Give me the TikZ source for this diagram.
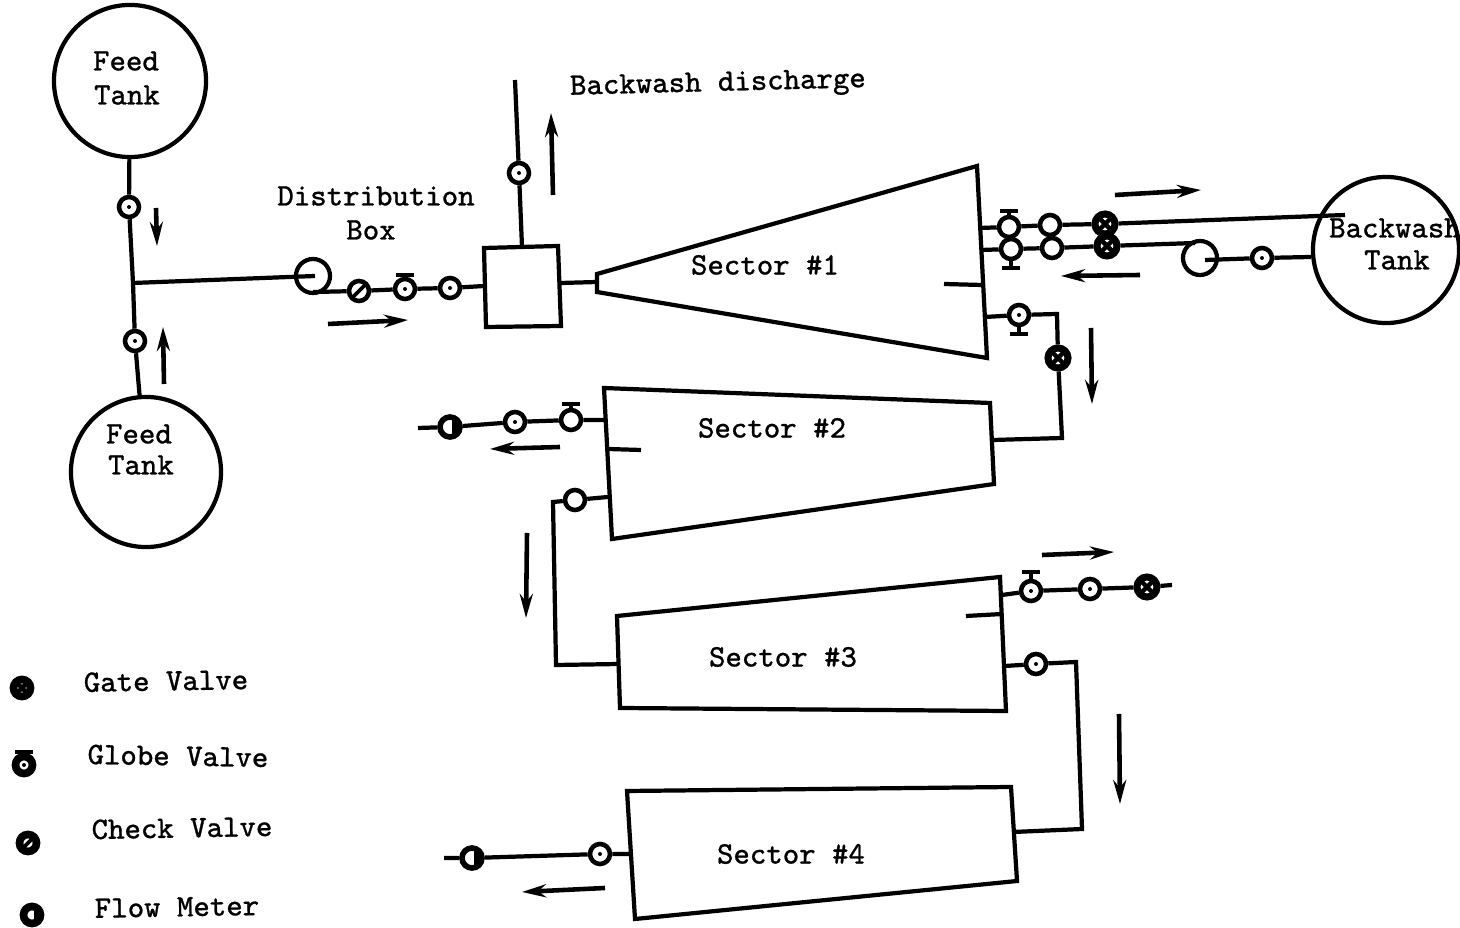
\documentclass[tikz,border=0pt]{standalone}
\usepackage{fontspec}
\usepackage{tikz,xcolor}
\usetikzlibrary{arrows.meta}
\newfontfamily\typedfont[FakeBold=0.8]{Latin Modern Mono}

\tikzset{
  pipe/.style={black, line width=1.2pt},
  flow/.style={black, line width=1.3pt, -{Stealth[length=0.24cm,width=0.13cm]}},
  tank/.style={circle, draw=black, line width=1.2pt, inner sep=0pt},
  lbl/.style={font=\fontsize{8.9}{10}\selectfont\typedfont, black, inner sep=0pt},
  plainv/.style={circle, draw=black, line width=1.3pt, fill=white, inner sep=0pt, minimum size=0.2cm},
  dotv/.style={plainv, path picture={\fill[black] (path picture bounding box.center) circle (0.02cm);}},
  checkv/.style={plainv, path picture={\draw[black, line width=1.1pt] (path picture bounding box.south west) -- (path picture bounding box.north east);}},
  gatev/.style={plainv, line width=2pt, path picture={\draw[black, line width=1.3pt] (path picture bounding box.south west) -- (path picture bounding box.north east) (path picture bounding box.south east) -- (path picture bounding box.north west);}},
  meterv/.style={plainv, line width=1.6pt, path picture={\fill[black] ([xshift=0.02cm]path picture bounding box.south) rectangle (path picture bounding box.north east);}},
  heavy/.style={line width=2.2pt, minimum size=0.17cm},
}

\begin{document}
\begin{tikzpicture}[x=0.01cm, y=-0.01cm]
\useasboundingbox (0,0) rectangle (1460,928);

% Feed tanks
\node[tank, minimum size=1.52cm] (feedA) at (130,81) {};
\node[tank, minimum size=1.50cm] (feedB) at (146,472) {};
\node[lbl] (feedAa) at (126,61) {Feed};
\node[lbl] (feedAb) at (127,95) {Tank};
\node[lbl] (feedBa) at (139,434) {Feed};
\node[lbl] (feedBb) at (141,465) {Tank};

% Feed line down to the junction
\coordinate (jn) at (133,283);
\node[dotv] (vA) at (129,207) {};
\node[dotv] (vB) at (135,341) {};
\draw[pipe] (feedA) -- (vA) -- (jn) -- (vB) -- (feedB);
\draw[flow] (156,208) coordinate (fa1) -- (157,246) coordinate (fb1);
\draw[flow] (164,384) coordinate (fa2) -- (163,327) coordinate (fb2);

% Distribution box
\node[tank, minimum size=0.34cm] (dist) at (313,276) {};
\coordinate (distc) at (315,276);
\coordinate (distb) at (313,292);
\node[lbl] (distA) at (376,196) {Distribution};
\node[lbl] (distB) at (371,230) {Box};
\draw[pipe] (jn) -- (distc);
\node[checkv] (v1) at (359,291) {};
\node[dotv] (v2) at (405,289) {};
\node[dotv] (v3) at (450,288) {};
\draw[pipe] (v2.north) -- (405,275) coordinate (h2);
\draw[pipe] (396,275) coordinate (h2a) -- (414,275) coordinate (h2b);
\draw[flow] (328,324) coordinate (fa3) -- (408,320) coordinate (fb3);

% Header box
\coordinate (bxa) at (484,248);
\coordinate (bxb) at (558,246);
\coordinate (bxc) at (561,326);
\coordinate (bxd) at (486,327);
\draw[pipe] (bxa) -- (bxb) -- (bxc) -- (bxd) -- cycle;
\coordinate (bxl) at (484,286);
\draw[pipe] (distb) -- (v1) -- (v2) -- (v3) -- (bxl);

% Backwash discharge
\coordinate (bxt) at (522,247);
\coordinate (dis) at (515,80);
\node[dotv] (vd) at (519,173) {};
\draw[pipe] (bxt) -- (vd) -- (dis);
\draw[flow] (553,195) coordinate (fa4) -- (551,113) coordinate (fb4);
\node[lbl, rotate=1.5] (disl) at (718,85) {Backwash discharge};

% Sector 1
\coordinate (sAa) at (597,274);
\coordinate (sAb) at (977,166);
\coordinate (sAc) at (987,358);
\coordinate (sAd) at (597,292);
\draw[pipe] (sAa) -- (sAb) -- (sAc) -- (sAd) -- cycle;
\node[lbl] (sAl) at (765,265) {Sector \#1};
\coordinate (bxr) at (561,283);
\coordinate (sAin) at (597,282);
\draw[pipe] (bxr) -- (sAin);
\draw[pipe] (944,284) coordinate (tAa) -- (982,285) coordinate (tAb);

% Backwash tank and its two lines
\node[tank, minimum size=1.46cm] (back) at (1386,250) {};
\node[lbl] (backa) at (1395,228) {Backwash};
\node[lbl] (backb) at (1397,260) {Tank};
\coordinate (upA) at (979,228);
\coordinate (upB) at (1345,215);
\node[plainv] (u1) at (1009,227) {};
\node[plainv] (u2) at (1050,225) {};
\node[gatev] (u3) at (1105,224) {};
\draw[pipe] (upA) -- (u1) -- (u2) -- (u3) -- (upB);
\draw[pipe] (u1.north) -- (1009,211) coordinate (hu);
\draw[pipe] (1000,211) coordinate (hua) -- (1018,211) coordinate (hub);
\coordinate (loA) at (981,250);
\coordinate (pumpt) at (1195,243);
\node[plainv] (w1) at (1011,249) {};
\node[plainv] (w2) at (1052,248) {};
\node[gatev] (w3) at (1107,246) {};
\draw[pipe] (loA) -- (w1) -- (w2) -- (w3) -- (pumpt);
\draw[pipe] (w1.south) -- (1011,268) coordinate (hw);
\draw[pipe] (1002,268) coordinate (hwa) -- (1020,268) coordinate (hwb);
\node[tank, minimum size=0.34cm] (pump) at (1200,258) {};
\coordinate (pumpc) at (1205,260);
\node[dotv] (w4) at (1262,258) {};
\coordinate (backl) at (1311,257);
\draw[pipe] (pumpc) -- (w4) -- (backl);
\draw[flow] (1115,195) coordinate (fa5) -- (1201,190) coordinate (fb5);
\draw[flow] (1140,275) coordinate (fa6) -- (1061,276) coordinate (fb6);

% Sector 1 to sector 2
\coordinate (oAa) at (985,317);
\coordinate (oAb) at (1057,314);
\coordinate (oAc) at (1062,438);
\coordinate (iBa) at (993,440);
\node[dotv] (x1) at (1019,315) {};
\node[gatev] (x2) at (1058,358) {};
\draw[pipe] (oAa) -- (x1) -- (oAb) -- (x2) -- (oAc) -- (iBa);
\draw[pipe] (x1.south) -- (1019,334) coordinate (hx);
\draw[pipe] (1010,334) coordinate (hxa) -- (1028,334) coordinate (hxb);
\draw[flow] (1091,328) coordinate (fa7) -- (1092,404) coordinate (fb7);

% Sector 2
\coordinate (sBa) at (604,388);
\coordinate (sBb) at (990,403);
\coordinate (sBc) at (994,484);
\coordinate (sBd) at (612,539);
\draw[pipe] (sBa) -- (sBb) -- (sBc) -- (sBd) -- cycle;
\node[lbl] (sBl) at (772,428) {Sector \#2};
\draw[pipe] (608,449) coordinate (tBa) -- (641,450) coordinate (tBb);
\coordinate (oBa) at (605,420);
\coordinate (oBb) at (418,428);
\node[plainv] (y1) at (571,420) {};
\node[dotv] (y2) at (515,422) {};
\node[meterv] (y3) at (450,427) {};
\draw[pipe] (oBa) -- (y1) -- (y2) -- (y3) -- (oBb);
\draw[pipe] (y1.north) -- (571,404) coordinate (hy);
\draw[pipe] (562,404) coordinate (hya) -- (580,404) coordinate (hyb);
\draw[flow] (560,447) coordinate (fa8) -- (490,449) coordinate (fb8);

% Sector 2 to sector 3
\coordinate (oBc) at (608,497);
\coordinate (oBd) at (553,502);
\coordinate (oBe) at (556,665);
\coordinate (iCa) at (619,664);
\node[plainv] (z1) at (575,500) {};
\draw[pipe] (oBc) -- (z1) -- (oBd) -- (oBe) -- (iCa);
\draw[flow] (527,533) coordinate (fa9) -- (526,618) coordinate (fb9);

% Sector 3
\coordinate (sCa) at (617,616);
\coordinate (sCb) at (1000,577);
\coordinate (sCc) at (1006,711);
\coordinate (sCd) at (620,708);
\draw[pipe] (sCa) -- (sCb) -- (sCc) -- (sCd) -- cycle;
\node[lbl] (sCl) at (783,657) {Sector \#3};
\draw[pipe] (966,616) coordinate (tCa) -- (1002,614) coordinate (tCb);
\coordinate (oCa) at (1002,595);
\coordinate (oCb) at (1172,585);
\node[dotv] (p1) at (1031,591) {};
\node[dotv] (p2) at (1090,589) {};
\node[gatev] (p3) at (1147,587) {};
\draw[pipe] (oCa) -- (p1) -- (p2) -- (p3) -- (oCb);
\draw[pipe] (p1.north) -- (1031,572) coordinate (hp);
\draw[pipe] (1022,572) coordinate (hpa) -- (1040,572) coordinate (hpb);
\draw[flow] (1042,555) coordinate (fa10) -- (1114,552) coordinate (fb10);

% Sector 3 to sector 4
\coordinate (oCc) at (1005,666);
\coordinate (oCd) at (1076,662);
\coordinate (oCe) at (1082,829);
\coordinate (iDa) at (1013,832);
\node[dotv] (q1) at (1036,664) {};
\draw[pipe] (oCc) -- (q1) -- (oCd) -- (oCe) -- (iDa);
\draw[flow] (1119,714) coordinate (fa11) -- (1120,804) coordinate (fb11);

% Sector 4
\coordinate (sDa) at (627,791);
\coordinate (sDb) at (1011,787);
\coordinate (sDc) at (1017,881);
\coordinate (sDd) at (635,919);
\draw[pipe] (sDa) -- (sDb) -- (sDc) -- (sDd) -- cycle;
\node[lbl] (sDl) at (791,854) {Sector \#4};
\coordinate (oDa) at (630,854);
\coordinate (oDb) at (444,858);
\node[dotv] (r1) at (600,854) {};
\node[meterv] (r2) at (472,858) {};
\draw[pipe] (oDa) -- (r1) -- (r2) -- (oDb);
\draw[flow] (605,888) coordinate (fa12) -- (522,892) coordinate (fb12);

% Legend
\node[gatev, heavy] (lgA) at (22,688) {};
\node[dotv, heavy] (lgB) at (24,765) {};
\draw[pipe] (lgB.north) -- (24,752) coordinate (hl);
\draw[pipe] (15,752) coordinate (hla) -- (33,752) coordinate (hlb);
\node[checkv, heavy] (lgC) at (28,843) {};
\node[meterv, heavy] (lgD) at (32,915) {};
\node[lbl, rotate=1] (lgAt) at (166,681) {Gate Valve};
\node[lbl, rotate=-1] (lgBt) at (178,756) {Globe Valve};
\node[lbl, rotate=1] (lgCt) at (182,828) {Check Valve};
\node[lbl, rotate=1] (lgDt) at (177,907) {Flow Meter};
\end{tikzpicture}
\end{document}
